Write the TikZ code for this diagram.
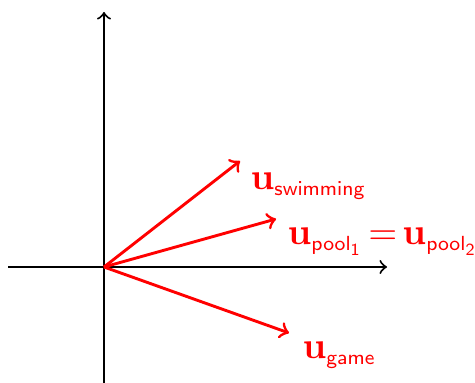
\documentclass[tikz,border=0pt]{standalone}
\usepackage{amsmath}
\DeclareMathSizes{11}{11}{6.3}{4.8}
\begin{document}
\begin{tikzpicture}[x=0.294pt,y=-0.294pt,
  axis/.style={line width=0.6pt,->},
  vec/.style={red,line width=0.85pt,->},
  lab/.style={red,anchor=west,inner sep=0pt,font=\fontsize{11}{13}\selectfont}]
\useasboundingbox (0,0) rectangle (475,383);
\coordinate (o) at (104,267);
\coordinate (xl) at (8,267);
\coordinate (xr) at (387,267);
\coordinate (yb) at (104,383);
\coordinate (yt) at (104,12);
\draw[axis] (xl) -- (xr);
\draw[axis] (yb) -- (yt);
\coordinate (s) at (240,161);
\coordinate (p) at (276,219);
\coordinate (g) at (289,333);
\draw[vec] (o) -- (s);
\draw[vec] (o) -- (p);
\draw[vec] (o) -- (g);
\node[lab] (ls) at (250,186) {$\mathbf{u}_{\mathsf{swimming}}$};
\node[lab] (lp) at (287,242) {$\mathbf{u}_{\mathsf{pool}_{\mathsf{1}}}\mskip-2.5mu=\mskip-2.5mu\mathbf{u}_{\mathsf{pool}_{\mathsf{2}}}$};
\node[lab] (lg) at (302,355) {$\mathbf{u}_{\mathsf{game}}$};
\end{tikzpicture}
\end{document}
